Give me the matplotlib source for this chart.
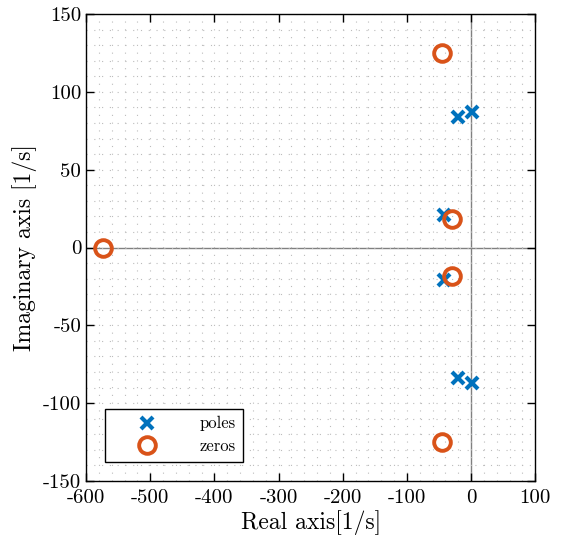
import matplotlib
matplotlib.use("Agg")
from matplotlib import pyplot as plt
from matplotlib.ticker import MultipleLocator

plt.rcParams["font.family"] = "serif"
plt.rcParams["font.serif"] = ["cmr10", "DejaVu Serif"]
plt.rcParams["mathtext.fontset"] = "cm"
plt.rcParams["axes.unicode_minus"] = False
plt.rcParams["axes.formatter.use_mathtext"] = False

pole_re = [-20, 2, -42, -42, -20, 2]
pole_im = [84, 87, 21, -21, -84, -87]
zero_re = [-46, -30, -573, -30, -46]
zero_im = [125, 18.5, 0, -18.5, -125]

fig = plt.figure(figsize = (5.7, 5.41), dpi = 100)
ax = fig.add_axes([0.151, 0.111, 0.788, 0.863])

ax.axhline(0, color = "grey", linewidth = 1.0, zorder = 1)
ax.axvline(0, color = "grey", linewidth = 1.0, zorder = 1)

ax.plot(pole_re, pole_im, linestyle = "none", marker = "x", markersize = 9,
        markeredgewidth = 3, color = "#0072BD", label = "poles", zorder = 3)
ax.plot(zero_re, zero_im, linestyle = "none", marker = "o", markersize = 12,
        markeredgewidth = 2.8, markerfacecolor = "none", color = "#D95319",
        label = "zeros", zorder = 3)

ax.set_xlim(-600, 100)
ax.set_ylim(-150, 150)
ax.xaxis.set_major_locator(MultipleLocator(100))
ax.yaxis.set_major_locator(MultipleLocator(50))
ax.xaxis.set_minor_locator(MultipleLocator(20))
ax.yaxis.set_minor_locator(MultipleLocator(10))
ax.grid(which = "both", linestyle = (0, (1, 6)), color = "#bcbcbc", linewidth = 0.8)
ax.tick_params(which = "major", direction = "in", length = 6, labelsize = 15,
               top = True, right = True, width = 1)
ax.tick_params(axis = "x", pad = 6)
ax.tick_params(which = "minor", length = 0)
for s in ax.spines.values():
    s.set_linewidth(1.0)

ax.set_xlabel("Real axis[1/s]", fontsize = 17, labelpad = 2)
ax.set_ylabel("Imaginary axis [1/s]", fontsize = 17)

leg = ax.legend(loc = "lower left", bbox_to_anchor = (0.042, 0.041), borderaxespad = 0,
                fontsize = 12, frameon = True, fancybox = False, edgecolor = "black",
                framealpha = 1, markerfirst = True, handlelength = 4.2,
                borderpad = 0.45, labelspacing = 0.45, handletextpad = 1.0)
leg.get_frame().set_linewidth(1.0)

plt.savefig("out.png", dpi = 100)
